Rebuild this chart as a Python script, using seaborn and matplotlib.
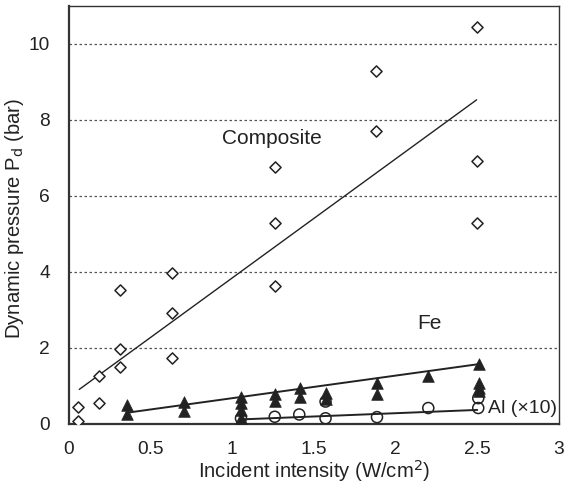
import numpy as np
import pandas as pd
import matplotlib
matplotlib.use("Agg")
import matplotlib.pyplot as plt
import seaborn as sns

# Composite (open diamonds)
comp_x = [0.057, 0.057, 0.185, 0.185, 0.315, 0.315, 0.315, 0.628, 0.628, 0.628,
          1.26, 1.26, 1.26, 1.88, 1.88, 2.50, 2.50, 2.50]
comp_y = [0.44, 0.08, 1.27, 0.54, 3.53, 1.97, 1.51, 3.97, 2.91, 1.73,
          3.64, 6.75, 5.28, 9.29, 7.71, 10.46, 6.93, 5.28]

# Fe (filled triangles)
fe_x = [0.356, 0.356, 0.703, 0.703, 1.053, 1.053, 1.053, 1.053, 1.264, 1.264,
        1.413, 1.413, 1.571, 1.571, 1.886, 1.886, 2.20, 2.512, 2.512, 2.512, 2.512]
fe_y = [0.50, 0.26, 0.59, 0.35, 0.72, 0.54, 0.36, 0.15, 0.79, 0.61,
        0.94, 0.72, 0.81, 0.67, 1.07, 0.79, 1.25, 1.58, 1.07, 0.94, 0.86]

# Al x10 (open circles)
al_x = [1.053, 1.26, 1.41, 1.571, 1.571, 1.886, 2.20, 2.506, 2.506]
al_y = [0.15, 0.19, 0.25, 0.15, 0.59, 0.18, 0.42, 0.42, 0.68]

# fitted trend lines as drawn in the figure (end points)
comp_fit_x = [0.063, 2.496]
comp_fit_y = [0.91, 8.53]
fe_fit_x = [0.362, 2.50]
fe_fit_y = [0.30, 1.57]
al_fit_x = [1.053, 2.50]
al_fit_y = [0.12, 0.37]

sns.set_theme(style="white")
plt.rcParams['font.family'] = ['Liberation Sans', 'DejaVu Sans']

fig = plt.figure(figsize=(5.64, 4.83), dpi=100)
ax = fig.add_axes([0.1223, 0.1222, 0.8687, 0.8654])

ink = '#222222'

for gy in [2, 4, 6, 8, 10]:
    ax.axhline(gy, color='#555555', lw=0.9, ls=(0, (2, 2)), zorder=0)

sns.lineplot(x=comp_fit_x, y=comp_fit_y, color=ink, lw=1.0, ax=ax)
sns.lineplot(x=fe_fit_x, y=fe_fit_y, color=ink, lw=1.4, ax=ax)
sns.lineplot(x=al_fit_x, y=al_fit_y, color=ink, lw=1.4, ax=ax)

sns.scatterplot(x=comp_x, y=comp_y, marker='D', s=32, facecolor='white',
                edgecolor=ink, linewidth=1.1, ax=ax, zorder=3)
sns.scatterplot(x=fe_x, y=fe_y, marker='^', s=70, color=ink,
                edgecolor=ink, linewidth=0.5, ax=ax, zorder=3)
sns.scatterplot(x=al_x, y=al_y, marker='o', s=63, facecolor='none',
                edgecolor=ink, linewidth=1.1, ax=ax, zorder=4)

ax.text(1.245, 7.5, 'Composite', fontsize=15, ha='center', va='center', color=ink)
ax.text(2.21, 2.65, 'Fe', fontsize=15, ha='center', va='center', color=ink)
ax.text(2.565, 0.42, 'Al (×10)', fontsize=14, ha='left', va='center', color=ink)

ax.set_xlim(0, 3)
ax.set_ylim(0, 11)
ax.set_xticks([0, 0.5, 1, 1.5, 2, 2.5, 3])
ax.set_xticklabels(['0', '0.5', '1', '1.5', '2', '2.5', '3'])
ax.set_yticks([0, 2, 4, 6, 8, 10])
ax.tick_params(direction='in', length=4.2, width=1.2, colors=ink, labelsize=13.8)
ax.tick_params(axis='x', pad=12.5)
ax.tick_params(axis='y', pad=13.5)

for side, sp in ax.spines.items():
    sp.set_color('#333333')
    sp.set_linewidth(1.6 if side in ('left', 'bottom') else 1.0)

ax.set_xlabel('Incident intensity (W/cm$^2$)', fontsize=14.6, color=ink)
ax.set_ylabel('Dynamic pressure P$_\\mathrm{d}$ (bar)', fontsize=14.6, color=ink)
ax.xaxis.label.set_va('baseline')
ax.xaxis.set_label_coords(0.5, -0.129)
ax.yaxis.set_label_coords(-0.0878, 0.493)

fig.savefig('out.png', dpi=100)
